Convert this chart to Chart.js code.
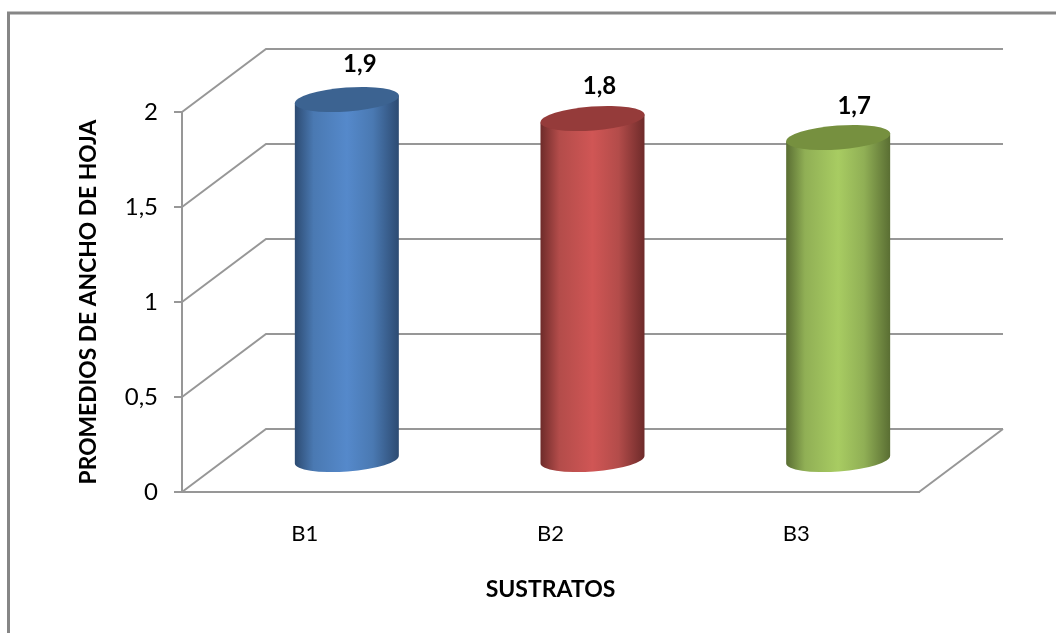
<!DOCTYPE html>
<html lang="es">
<head>
<meta charset="utf-8">
<title>Promedios de ancho de hoja</title>
<style>
  html, body { margin: 0; padding: 0; background: #ffffff; }
  canvas { display: block; }
</style>
<script src="https://cdn.jsdelivr.net/npm/chart.js@4"></script>
</head>
<body>
<canvas id="myChart" width="1056" height="633"></canvas>
<script>
const categories = ['B1', 'B2', 'B3'];
const values = [1.9, 1.8, 1.7];

// one colour set per bar: side edge, side shoulder, side centre, top cap
const edgeColors = ['#2d4b72', '#6e2b2a', '#5a6e33'];
const shoulderColors = ['#4a79b2', '#b34c4a', '#90af55'];
const centerColors = ['#5589cb', '#d05655', '#a8cc62'];
const capColors = ['#3c6391', '#953b3a', '#76903f'];

const GRID_COLOR = '#979797';
const FRAME_COLOR = '#868686';
const FONT = 'Lato, Carlito, sans-serif';

// depth of the 3D box and the tilt of the cylinder ends
const DEPTH_X = 84;
const DEPTH_Y = -63;
const CAP_RY = 12;
const CAP_TILT = -0.076;

// small shift of each value label from the centre of its cap
const labelShiftX = [13, 7, 16];
const labelShiftY = [-35, -32, -31];

function commaNumber(v) {
    return String(v).replace('.', ',');
}

const boxPlugin = {
    id: 'box3d',
    beforeDraw(chart) {
        const ctx = chart.ctx;
        ctx.save();
        ctx.fillStyle = '#ffffff';
        ctx.fillRect(0, 0, chart.width, chart.height);
        // outer frame, only left and top show
        ctx.strokeStyle = FRAME_COLOR;
        ctx.lineWidth = 3;
        ctx.beginPath();
        ctx.moveTo(8.5, chart.height);
        ctx.lineTo(8.5, 13);
        ctx.lineTo(chart.width, 13);
        ctx.stroke();
        ctx.restore();
    },
    beforeDatasetsDraw(chart) {
        const ctx = chart.ctx;
        const area = chart.chartArea;
        const yScale = chart.scales.y;
        ctx.save();
        ctx.strokeStyle = GRID_COLOR;
        ctx.lineWidth = 2;
        ctx.beginPath();
        yScale.ticks.forEach(function(tick) {
            const y = yScale.getPixelForValue(tick.value);
            ctx.moveTo(area.left, y);
            ctx.lineTo(area.left + DEPTH_X, y + DEPTH_Y);
            ctx.lineTo(area.right + DEPTH_X, y + DEPTH_Y);
        });
        // right edge of the floor
        ctx.moveTo(area.right, area.bottom);
        ctx.lineTo(area.right + DEPTH_X, area.bottom + DEPTH_Y);
        ctx.stroke();
        ctx.restore();
    }
};

const cylinderPlugin = {
    id: 'cylinders',
    // the bar elements give the geometry, each one is painted as a cylinder
    beforeDatasetDraw(chart, args) {
        const ctx = chart.ctx;
        args.meta.data.forEach(function(bar, i) {
            const cx = bar.x + DEPTH_X / 2;
            const top = bar.y + DEPTH_Y / 2;
            const bottom = bar.base + DEPTH_Y / 2;
            const half = bar.width / 2;
            const rx = half / Math.cos(CAP_TILT);
            const dy = half * Math.tan(CAP_TILT);

            const side = ctx.createLinearGradient(cx - half, 0, cx + half, 0);
            side.addColorStop(0, edgeColors[i]);
            side.addColorStop(0.18, shoulderColors[i]);
            side.addColorStop(0.5, centerColors[i]);
            side.addColorStop(0.75, shoulderColors[i]);
            side.addColorStop(1, edgeColors[i]);

            ctx.save();
            ctx.fillStyle = side;
            ctx.beginPath();
            ctx.moveTo(cx - half, top - dy);
            ctx.lineTo(cx - half, bottom - dy);
            ctx.ellipse(cx, bottom, rx, CAP_RY, CAP_TILT, Math.PI, 0, true);
            ctx.lineTo(cx + half, top + dy);
            ctx.closePath();
            ctx.fill();

            ctx.fillStyle = capColors[i];
            ctx.beginPath();
            ctx.ellipse(cx, top, rx, CAP_RY, CAP_TILT, 0, Math.PI * 2);
            ctx.fill();

            ctx.fillStyle = '#000000';
            ctx.font = 'bold 24px ' + FONT;
            ctx.textAlign = 'center';
            ctx.textBaseline = 'middle';
            ctx.fillText(commaNumber(values[i]), cx + labelShiftX[i], top + labelShiftY[i]);
            ctx.restore();
        });
        return false;
    }
};

const chart = new Chart(document.getElementById('myChart'), {
    type: 'bar',
    data: {
        labels: categories,
        datasets: [{
            label: 'PROMEDIOS DE ANCHO DE HOJA',
            data: values,
            backgroundColor: centerColors,
            barPercentage: 0.4233,
            categoryPercentage: 1
        }]
    },
    options: {
        responsive: false,
        animation: false,
        layout: { padding: { left: 0, right: 137, top: 112, bottom: 0 } },
        plugins: {
            legend: { display: false },
            tooltip: { enabled: false }
        },
        scales: {
            x: {
                afterFit(scale) { scale.height = 141; },
                grid: { display: true, drawOnChartArea: false, drawTicks: false },
                border: { color: GRID_COLOR, width: 2 },
                ticks: {
                    padding: 29,
                    color: '#000000',
                    maxRotation: 0,
                    font: { family: FONT, size: 22 }
                },
                title: {
                    display: true,
                    text: 'SUSTRATOS',
                    color: '#000000',
                    font: { family: FONT, size: 23, weight: 'bold' },
                    padding: { top: 0, bottom: 30 }
                }
            },
            y: {
                min: 0,
                max: 2,
                afterFit(scale) { scale.width = 182; },
                grid: { color: GRID_COLOR, lineWidth: 2, drawOnChartArea: false, tickLength: 8 },
                border: { color: GRID_COLOR, width: 2 },
                ticks: {
                    stepSize: 0.5,
                    padding: 16,
                    color: '#000000',
                    font: { family: FONT, size: 24 },
                    callback: function(value) { return commaNumber(value); }
                },
                title: {
                    display: true,
                    text: 'PROMEDIOS DE ANCHO DE HOJA',
                    color: '#000000',
                    font: { family: FONT, size: 22.8, weight: 'bold' },
                    padding: { top: 75, bottom: 0 }
                }
            }
        }
    },
    plugins: [boxPlugin, cylinderPlugin]
});
</script>
</body>
</html>
